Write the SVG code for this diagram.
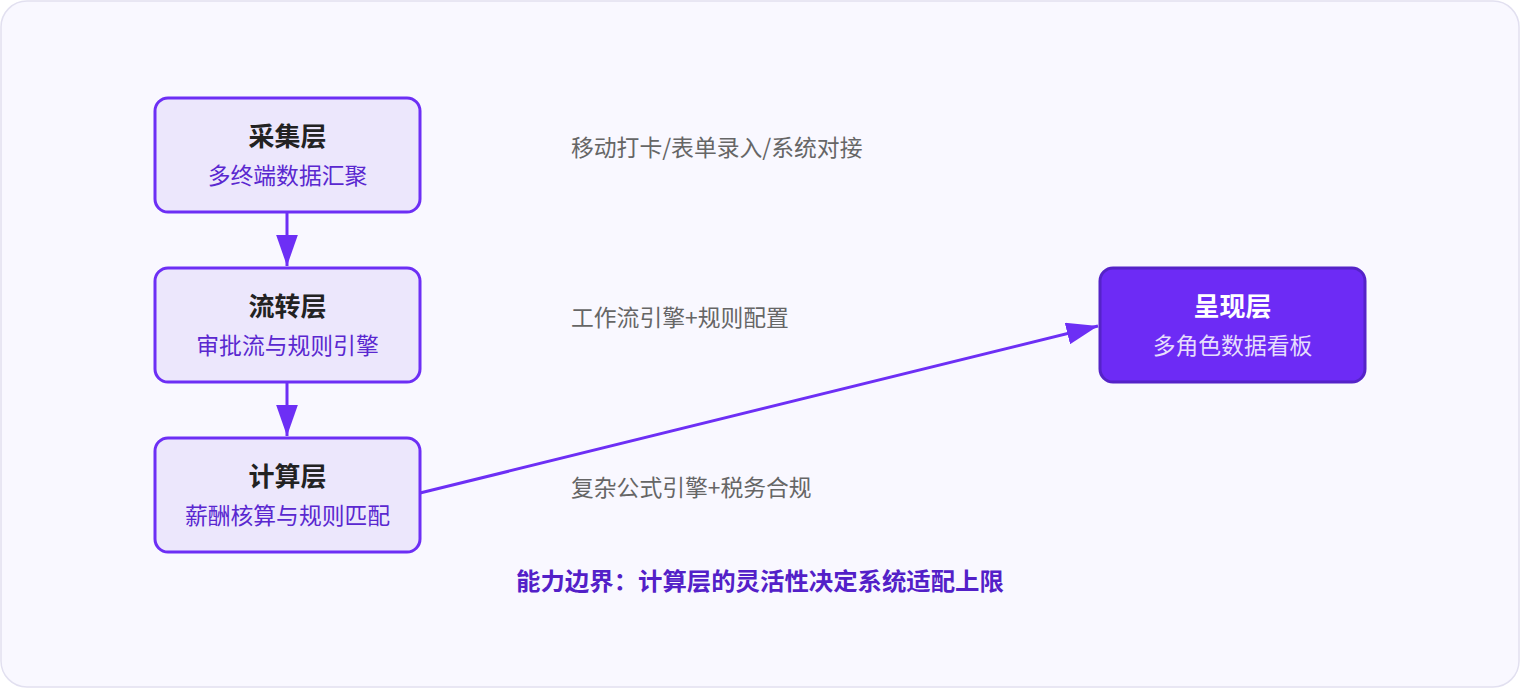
<svg xmlns="http://www.w3.org/2000/svg" width="1520" height="690" viewBox="0 0 1520 690">
<defs>
<style>
.bg{fill:#f9f8ff;stroke:#e2e0f0;stroke-width:1.5}
.node rect{fill:#ece7fc;stroke:#6d2ff5;stroke-width:3}
.hl rect{fill:#6d2bf5;stroke:#5523c8;stroke-width:3}
.t{font-family:"Noto Sans CJK SC","Noto Sans",sans-serif;text-anchor:middle}
.title{font-size:26px;font-weight:700;fill:#222}
.sub{font-size:22.8px;fill:#5a28d0}
.hl .title{fill:#fff}
.hl .sub{fill:#e6defc}
.side{font-family:"Noto Sans CJK SC","Noto Sans",sans-serif;font-size:22.8px;fill:#666}
.foot{font-family:"Noto Sans CJK SC","Noto Sans",sans-serif;font-size:24.4px;font-weight:700;fill:#5320c8;text-anchor:middle}
.edge{stroke:#6d2ff5;stroke-width:3;fill:none}
</style>
<marker id="ah" viewBox="0 0 10 7" refX="10" refY="3.5" markerWidth="10.5" markerHeight="7.35" orient="auto">
<path d="M0,0 L10,3.5 L0,7 z" fill="#6d2ff5"/>
</marker>
</defs>
<rect class="bg" x="1" y="1" width="1518" height="686" rx="26"/>
<g id="edges">
<path class="edge" d="M287,212 L287,266" marker-end="url(#ah)"/>
<path class="edge" d="M287,382 L287,436" marker-end="url(#ah)"/>
<path class="edge" d="M420,493 L1098,326" marker-end="url(#ah)"/>
</g>
<g id="collect" class="node">
<rect x="155" y="98" width="265" height="114" rx="13"/>
<text class="t title" x="287.5" y="146">采集层</text>
<text class="t sub" x="287.5" y="184">多终端数据汇聚</text>
</g>
<g id="flow" class="node">
<rect x="155" y="268" width="265" height="114" rx="13"/>
<text class="t title" x="287.5" y="316">流转层</text>
<text class="t sub" x="287.5" y="354">审批流与规则引擎</text>
</g>
<g id="calc" class="node">
<rect x="155" y="438" width="265" height="114" rx="13"/>
<text class="t title" x="287.5" y="486">计算层</text>
<text class="t sub" x="287.5" y="524">薪酬核算与规则匹配</text>
</g>
<g id="present" class="hl">
<rect x="1100" y="268" width="265" height="114" rx="13"/>
<text class="t title" x="1232.5" y="316">呈现层</text>
<text class="t sub" x="1232.5" y="354">多角色数据看板</text>
</g>
<g id="labels">
<text class="side" x="571" y="156">移动打卡/表单录入/系统对接</text>
<text class="side" x="571" y="326">工作流引擎+规则配置</text>
<text class="side" x="571" y="496">复杂公式引擎+税务合规</text>
<text class="foot" x="760" y="590">能力边界：计算层的灵活性决定系统适配上限</text>
</g>
</svg>
